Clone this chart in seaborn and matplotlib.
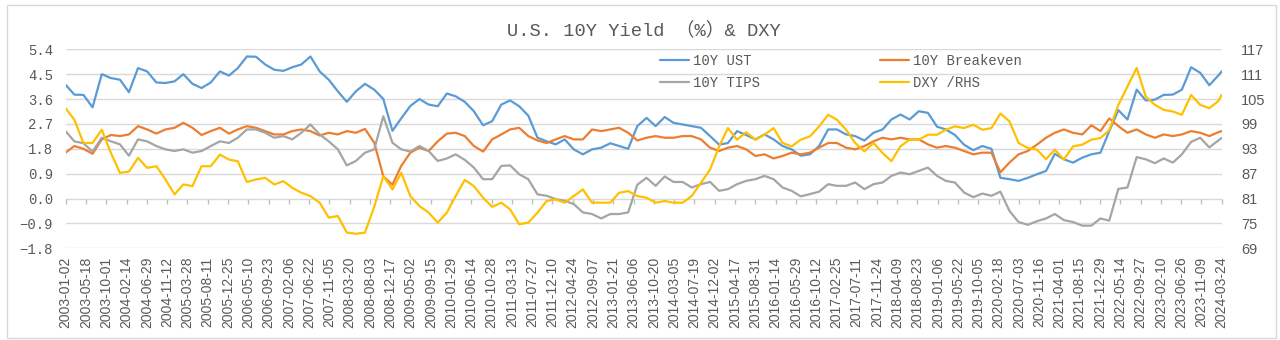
import numpy as np
import pandas as pd
import matplotlib
matplotlib.use("Agg")
import matplotlib.pyplot as plt
from matplotlib import font_manager
from matplotlib.patches import Rectangle
import seaborn as sns

sns.set_theme(style="white")
plt.rcParams["font.family"] = ["Liberation Mono", "Noto Sans CJK SC", "DejaVu Sans"]
plt.rcParams["axes.unicode_minus"] = True

# bi-monthly observations, Jan 2003 - Mar 2024
dates = list(pd.date_range("2003-01-01", "2024-03-01", freq="2MS")) + [pd.Timestamp("2024-03-24")]

ust = [4.12, 3.76, 3.75, 3.3, 4.5, 4.36, 4.3, 3.85, 4.72, 4.6,
       4.2, 4.18, 4.24, 4.5, 4.15, 4.0, 4.2, 4.6, 4.45, 4.72,
       5.14, 5.13, 4.85, 4.66, 4.62, 4.75, 4.85, 5.14, 4.6, 4.3,
       3.88, 3.5, 3.88, 4.15, 3.94, 3.6, 2.45, 2.9, 3.35, 3.6,
       3.4, 3.34, 3.8, 3.7, 3.5, 3.16, 2.65, 2.8, 3.4, 3.55,
       3.34, 3.0, 2.2, 2.07, 1.96, 2.14, 1.78, 1.6, 1.78, 1.84,
       2.0, 1.9, 1.8, 2.62, 2.92, 2.62, 2.95, 2.74, 2.68, 2.62,
       2.56, 2.26, 1.95, 2.01, 2.44, 2.3, 2.14, 2.32, 2.14, 1.9,
       1.78, 1.55, 1.6, 1.9, 2.5, 2.5, 2.32, 2.26, 2.1, 2.38,
       2.5, 2.86, 3.04, 2.86, 3.16, 3.1, 2.6, 2.5, 2.3, 1.95,
       1.75, 1.9, 1.8, 0.75, 0.7, 0.64, 0.75, 0.88, 1.0, 1.62,
       1.42, 1.3, 1.48, 1.6, 1.66, 2.44, 3.2, 2.86, 3.94, 3.55,
       3.58, 3.75, 3.76, 3.94, 4.75, 4.55, 4.1, 4.45, 4.6]

breakeven = [1.66, 1.9, 1.8, 1.62, 2.14, 2.3, 2.26, 2.32, 2.62, 2.5,
             2.35, 2.5, 2.56, 2.74, 2.56, 2.3, 2.44, 2.56, 2.35, 2.5,
             2.62, 2.56, 2.44, 2.32, 2.32, 2.44, 2.5, 2.44, 2.28, 2.38,
             2.32, 2.44, 2.38, 2.52, 2.02, 0.8, 0.5, 1.18, 1.66, 1.84,
             1.72, 2.07, 2.35, 2.38, 2.26, 1.9, 1.7, 2.14, 2.32, 2.5,
             2.56, 2.26, 2.1, 2.01, 2.14, 2.26, 2.14, 2.14, 2.5, 2.44,
             2.5, 2.56, 2.38, 2.1, 2.2, 2.26, 2.2, 2.2, 2.26, 2.26,
             2.14, 1.84, 1.72, 1.84, 1.9, 1.78, 1.54, 1.6, 1.45, 1.54,
             1.66, 1.6, 1.66, 1.84, 2.01, 2.01, 1.84, 1.78, 1.9, 2.07,
             2.2, 2.14, 2.2, 2.14, 2.14, 1.96, 1.84, 1.9, 1.84, 1.72,
             1.6, 1.66, 1.66, 0.95, 1.3, 1.6, 1.72, 1.95, 2.2, 2.38,
             2.5, 2.38, 2.32, 2.65, 2.44, 2.9, 2.62, 2.38, 2.5, 2.32,
             2.2, 2.32, 2.26, 2.32, 2.44, 2.38, 2.26, 2.4, 2.44]

tips = [2.44, 2.07, 2.0, 1.7, 2.2, 2.07, 1.96, 1.55, 2.14, 2.07,
        1.9, 1.78, 1.72, 1.78, 1.66, 1.72, 1.9, 2.07, 2.01, 2.2,
        2.5, 2.5, 2.38, 2.2, 2.26, 2.14, 2.38, 2.68, 2.32, 2.07,
        1.78, 1.2, 1.36, 1.66, 1.78, 2.98, 2.02, 1.78, 1.7, 1.9,
        1.72, 1.36, 1.45, 1.6, 1.4, 1.12, 0.7, 0.7, 1.18, 1.2,
        0.88, 0.7, 0.15, 0.1, -0.02, -0.08, -0.2, -0.5, -0.56, -0.72,
        -0.56, -0.56, -0.5, 0.5, 0.75, 0.46, 0.8, 0.6, 0.6, 0.4,
        0.52, 0.6, 0.28, 0.34, 0.52, 0.64, 0.7, 0.82, 0.7, 0.4,
        0.28, 0.08, 0.16, 0.25, 0.52, 0.46, 0.46, 0.58, 0.34, 0.52,
        0.58, 0.82, 0.94, 0.88, 1.0, 1.12, 0.82, 0.64, 0.58, 0.22,
        0.05, 0.18, 0.1, 0.25, -0.45, -0.85, -0.95, -0.82, -0.72, -0.56,
        -0.78, -0.85, -0.98, -0.98, -0.72, -0.8, 0.35, 0.4, 1.5, 1.42,
        1.28, 1.45, 1.3, 1.6, 2.05, 2.2, 1.85, 2.1, 2.19]

dxy = [102.8, 100.0, 94.4, 94.4, 97.6, 92.0, 87.2, 87.5, 90.8, 88.4,
       88.8, 85.6, 82.0, 84.4, 84.0, 88.8, 88.8, 91.6, 90.4, 90.0,
       85.0, 85.6, 86.0, 84.4, 85.2, 83.6, 82.4, 81.6, 80.0, 76.4,
       76.8, 72.8, 72.5, 72.8, 79.0, 86.4, 83.2, 87.2, 81.6, 79.2,
       77.6, 75.2, 77.6, 81.6, 85.5, 84.0, 81.2, 79.0, 80.0, 78.4,
       74.8, 75.2, 77.6, 80.4, 80.8, 80.0, 81.6, 83.2, 80.0, 80.0,
       80.0, 82.4, 82.8, 81.6, 81.2, 80.0, 80.4, 80.0, 80.0, 81.6,
       84.8, 88.0, 93.6, 98.0, 95.2, 97.0, 95.2, 96.4, 98.0, 94.4,
       93.6, 95.2, 96.0, 98.4, 101.2, 100.0, 97.6, 94.4, 92.4, 94.4,
       92.0, 90.0, 93.6, 95.2, 95.2, 96.4, 96.4, 97.6, 98.4, 98.0,
       98.8, 97.6, 98.0, 101.5, 99.6, 94.4, 93.2, 92.8, 90.5, 92.8,
       90.4, 93.6, 94.0, 95.2, 95.6, 97.5, 103.6, 108.0, 112.5, 105.6,
       103.6, 102.4, 102.0, 101.2, 106.0, 103.6, 102.8, 104.5, 106.0]

series_names = ["10Y UST", "10Y Breakeven", "10Y TIPS", "DXY /RHS"]
series_colors = ["#5B9BD5", "#ED7D31", "#A5A5A5", "#FFC000"]
left_ticks = [-1.8, -0.9, 0.0, 0.9, 1.8, 2.7, 3.6, 4.5, 5.4]
right_ticks = [69, 75, 81, 87, 93, 99, 105, 111, 117]
x_start, x_end = pd.Timestamp("2003-01-02"), pd.Timestamp("2024-03-24")
x_ticks = pd.date_range(x_start, x_end, freq="136D")

df = pd.DataFrame({"date": dates, "ust": ust, "be": breakeven, "tips": tips, "dxy": dxy})

names = {f.name for f in font_manager.fontManager.ttflist}
sans_axis = "Liberation Sans Narrow" if "Liberation Sans Narrow" in names else "Liberation Sans"

W, H = 1280, 340
fig = plt.figure(figsize=(W / 100, H / 100), dpi=100)
fig.patch.set_facecolor("white")

# chart-area frame
fig.patches.append(Rectangle((7 / W, 1 - 338 / H), (1276 - 7) / W, (338 - 5) / H,
                             transform=fig.transFigure, fill=False,
                             edgecolor="#D9D9D9", lw=1.0))

left, right, top, bottom = 65.7, 1221.7, 49.3, 248.3
ax = fig.add_axes([left / W, 1 - bottom / H, (right - left) / W, (bottom - top) / H])
ax.set_facecolor("none")

lw = 1.6
h_ust = sns.lineplot(data=df, x="date", y="ust", ax=ax, color=series_colors[0], lw=lw)
sns.lineplot(data=df, x="date", y="be", ax=ax, color=series_colors[1], lw=lw)
sns.lineplot(data=df, x="date", y="tips", ax=ax, color=series_colors[2], lw=lw)
lines_left = ax.get_lines()

ax2 = ax.twinx()
sns.lineplot(data=df, x="date", y="dxy", ax=ax2, color=series_colors[3], lw=lw)
line_dxy = ax2.get_lines()[0]

ax.set_xlim(x_start, x_end)
ax.set_ylim(-1.8, 5.4)
ax2.set_ylim(69, 117)

for a in (ax, ax2):
    for s in a.spines.values():
        s.set_visible(False)
    a.set_xlabel("")
    a.set_ylabel("")

ax.set_yticks(left_ticks)
ax.set_yticklabels([f"{v:.1f}".replace("-", "\u2212") for v in left_ticks])
ax.yaxis.grid(True, color="#D9D9D9", lw=1.0)
ax.xaxis.grid(False)
ax.tick_params(axis="y", length=0, pad=9, labelsize=10, labelcolor="#595959")

ax2.set_yticks(right_ticks)
ax2.set_yticklabels([str(v) for v in right_ticks], family=sans_axis, fontsize=10.5,
                    color="#595959")
ax2.tick_params(axis="y", length=0, pad=14)
ax2.grid(False)

ax.set_xticks(x_ticks)
ax.set_xticklabels([d.strftime("%Y-%m-%d") for d in x_ticks], rotation=90,
                   family="Liberation Sans", fontsize=10, color="#595959")
ax.tick_params(axis="x", length=0, pad=6)

# category-axis tick marks sitting on the zero line
ax.plot(x_ticks, np.zeros(len(x_ticks)), ls="none", marker=3, ms=3.5, mew=1.0,
        color="#BFBFBF", clip_on=False, zorder=1)

fig.text(644 / W, 1 - 30 / H, "U.S. 10Y Yield （%）& DXY", ha="center", va="center",
         fontsize=13.5, color="#595959")

handles = [lines_left[0], lines_left[2], lines_left[1], line_dxy]
labels = [series_names[0], series_names[2], series_names[1], series_names[3]]
leg = fig.legend(handles, labels, ncol=2, loc="upper left",
                 bbox_to_anchor=(660 / W, 1 - 54 / H), frameon=False,
                 fontsize=10, handlelength=2.1, handletextpad=0.3,
                 columnspacing=8.6, labelspacing=0.55, borderpad=0, borderaxespad=0)
for t in leg.get_texts():
    t.set_color("#595959")

fig.savefig("out.png", dpi=100, facecolor="white")
